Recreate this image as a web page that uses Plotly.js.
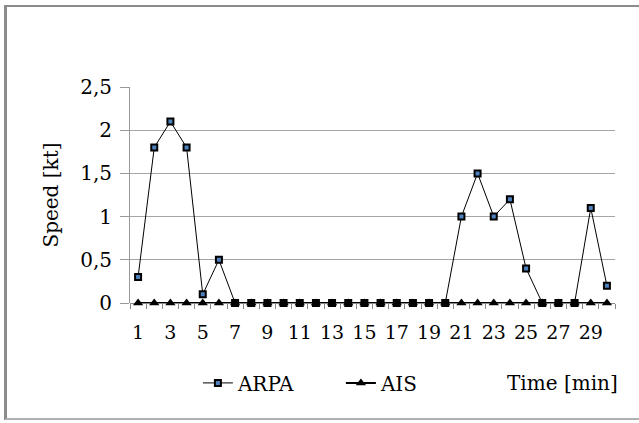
<!DOCTYPE html>
<html><head><meta charset="utf-8">
<script src="https://cdn.plot.ly/plotly-3.0.1.min.js"></script>
<style>
html,body{margin:0;padding:0;background:#fff;}
#wrap{position:relative;width:639px;height:423px;overflow:hidden;}
#chart{position:absolute;left:0;top:0;width:639px;height:423px;}
#frame{position:absolute;left:4px;top:5px;width:800px;height:411px;border-left:3px solid #8c8c8c;border-top:2px solid #8c8c8c;border-bottom:2px solid #b0b0b0;pointer-events:none;}
</style>
</head><body>
<div id="wrap"><div id="chart"></div><div id="frame"></div></div>
<script>
const minutes = [1,2,3,4,5,6,7,8,9,10,11,12,13,14,15,16,17,18,19,20,21,22,23,24,25,26,27,28,29,30];
const arpa = [0.3,1.8,2.1,1.8,0.1,0.5,0,0,0,0,0,0,0,0,0,0,0,0,0,0,1.0,1.5,1.0,1.2,0.4,0,0,0,1.1,0.2];
const ais  = [0,0,0,0,0,0,0,0,0,0,0,0,0,0,0,0,0,0,0,0,0,0,0,0,0,0,0,0,0,0];
const xTickVals = [1,3,5,7,9,11,13,15,17,19,21,23,25,27,29];
const xTickText = ['1','3','5','7','9','11','13','15','17','19','21','23','25','27','29'];
const yTickVals = [0,0.5,1,1.5,2,2.5];

const FAM = 'DejaVu Serif';
const traces = [
  {x: minutes, y: arpa, name: 'ARPA', type: 'scatter', mode: 'lines+markers', cliponaxis: false,
   line: {color: '#000', width: 1},
   marker: {symbol: 'square', size: 6, color: '#4f81bd', line: {color: '#000', width: 2}}},
  {x: minutes, y: ais, name: 'AIS', type: 'scatter', mode: 'lines+markers', cliponaxis: false,
   line: {color: '#000', width: 2},
   marker: {symbol: 'triangle-up', size: 9, color: '#000', line: {color: '#000', width: 0}}}
];
const layout = {
  width: 639, height: 423,
  margin: {l: 130, r: 24, t: 87, b: 120},
  paper_bgcolor: '#fff', plot_bgcolor: '#fff',
  separators: ',.',
  font: {family: FAM, size: 20, color: '#000'},
  showlegend: true,
  legend: {orientation: 'h', x: 0.14, xanchor: 'left', y: -0.37, yanchor: 'middle',
           font: {family: FAM, size: 20, color: '#000'}, tracegroupgap: 0, entrywidth: 98,
           bgcolor: 'rgba(0,0,0,0)'},
  xaxis: {range: [0.5, 30.5], tickvals: xTickVals, ticktext: xTickText, ticks: '',
          showgrid: false, zeroline: false, showline: false, ticklabelstandoff: 16,
          tickfont: {family: FAM, size: 19, color: '#000'},
          minor: {tick0: 0.5, dtick: 1, ticks: 'outside', ticklen: 5, tickcolor: '#888', tickwidth: 1, showgrid: false},
          fixedrange: true},
  yaxis: {range: [0, 2.5], tickvals: yTickVals, ticks: 'outside', ticklen: 9, tickcolor: '#999',
          showgrid: true, gridcolor: '#a6a6a6', gridwidth: 1, zeroline: true, zerolinecolor: '#888', zerolinewidth: 1,
          showline: true, linecolor: '#999', linewidth: 1, tickformat: '.1~f',
          tickfont: {family: FAM, size: 20, color: '#000'}, ticklabelstandoff: 4,
          title: {text: 'Speed [kt]', font: {family: FAM, size: 20, color: '#000'}, standoff: 16},
          fixedrange: true},
  annotations: [
    {xref: 'paper', yref: 'paper', x: 1.01, y: -0.37, xanchor: 'right', yanchor: 'middle',
     text: 'Time [min]', showarrow: false, font: {family: FAM, size: 20, color: '#000'}}
  ]
};
Plotly.newPlot('chart', traces, layout, {displayModeBar: false});
</script>
</body></html>
